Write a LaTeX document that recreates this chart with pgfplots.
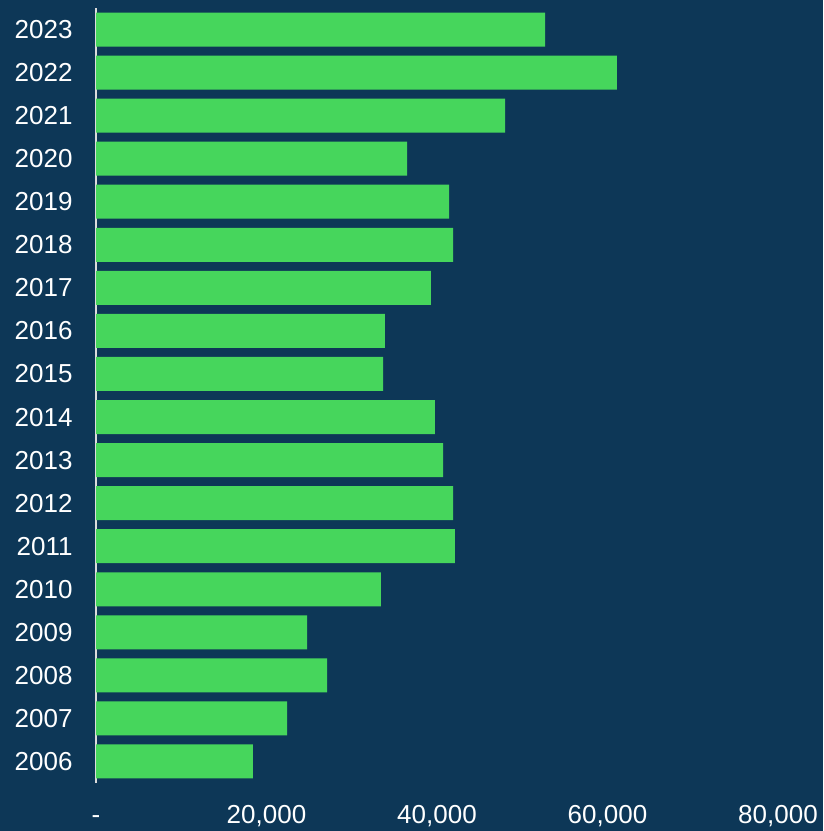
\documentclass[border=0pt]{standalone}
\usepackage{pgfplots}
\pgfplotsset{compat=1.18}
\usepackage{fontspec}
\setmainfont{Liberation Sans}
\definecolor{bg}{RGB}{13,55,87}
\definecolor{barg}{RGB}{70,214,92}
\definecolor{axl}{RGB}{220,220,220}
\begin{document}
\begin{tikzpicture}[x=1pt,y=1pt]
\path[use as bounding box] (0,0) rectangle (823,831);
\fill[bg] (0,0) rectangle (823,831);
\begin{axis}[
  at={(96pt,48pt)}, anchor=south west,
  scale only axis, width=682pt, height=775pt,
  xbar, bar width=34pt, bar shift=0pt,
  xmin=0, xmax=80000, ymin=2005.5, ymax=2023.5,
  enlargelimits=false,
  axis lines*=left,
  x axis line style={draw=none},
  y axis line style={draw=axl, line width=1.5pt, -},
  tick style={draw=none},
  xtick={0,20000,40000,60000,80000},
  xticklabels={-,20{,}000,40{,}000,60{,}000,80{,}000},
  ytick={2006,...,2023},
  yticklabels={2006,2007,2008,2009,2010,2011,2012,2013,2014,2015,2016,2017,2018,2019,2020,2021,2022,2023},
  ticklabel style={font=\fontsize{26}{30}\selectfont, text=white},
  xticklabel style={anchor=north, text height=18.6pt, text depth=0pt, inner sep=0pt, yshift=-22pt},
  yticklabel style={anchor=east, inner sep=0pt, xshift=-19pt},
]
\addplot[fill=barg, draw=none] coordinates {
(18416,2006) (22405,2007) (27097,2008) (24751,2009) (33431,2010) (42111,2011)
(41877,2012) (40704,2013) (39765,2014) (33666,2015) (33900,2016) (39296,2017)
(41877,2018) (41408,2019) (36481,2020) (47977,2021) (61114,2022) (52669,2023)
};
\end{axis}
\end{tikzpicture}
\end{document}
